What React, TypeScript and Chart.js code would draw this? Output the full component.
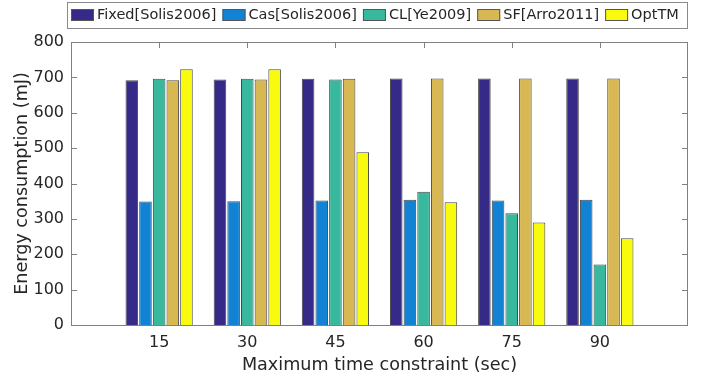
import React, { useEffect, useRef } from 'react';
import { Chart, registerables } from 'chart.js';

Chart.register(...registerables);

const categories = ['15', '30', '45', '60', '75', '90'];
const seriesNames = ['Fixed[Solis2006]', 'Cas[Solis2006]', 'CL[Ye2009]', 'SF[Arro2011]', 'OptTM'];
const fixedValues = [692, 694, 696, 697, 697, 697];
const casValues = [349, 350, 352, 354, 352, 354];
const clValues = [696, 696, 694, 377, 316, 171];
const sfValues = [692, 694, 696, 697, 697, 697];
const optValues = [723, 723, 488, 347, 290, 245];
const seriesColors = ['#352A87', '#1283D4', '#38B89D', '#D7B852', '#F9FB0E'];
const yMin = 0;
const yMax = 800;
const yStep = 100;
const xTitle = 'Maximum time constraint (sec)';
const yTitle = 'Energy consumption (mJ)';

const FONT = '"DejaVu Sans", sans-serif';
const TEXT = '#262626';

const framePlugin = {
  id: 'frame',
  beforeDatasetsDraw(chart: any) {
    const { ctx, chartArea, scales } = chart;
    const { left, right, top, bottom } = chartArea;
    ctx.save();
    ctx.strokeStyle = '#808080';
    ctx.lineWidth = 1;
    ctx.beginPath();
    for (let v = yMin; v <= yMax; v += yStep) {
      const py = Math.round(scales.y.getPixelForValue(v)) + 0.5;
      ctx.moveTo(left, py);
      ctx.lineTo(left + 6, py);
      ctx.moveTo(right - 6, py);
      ctx.lineTo(right, py);
    }
    for (let i = 1; i <= categories.length; i++) {
      const px = Math.round(scales.x.getPixelForValue(i)) + 0.5;
      ctx.moveTo(px, top);
      ctx.lineTo(px, top + 6);
      ctx.moveTo(px, bottom);
      ctx.lineTo(px, bottom - 6);
    }
    ctx.stroke();
    ctx.strokeRect(Math.round(left) + 0.5, Math.round(top) + 0.5, Math.round(right - left) - 1, Math.round(bottom - top));
    ctx.restore();
  },
  afterDraw(chart: any) {
    const { ctx } = chart;
    ctx.save();
    ctx.font = '14.5px ' + FONT;
    ctx.textBaseline = 'middle';
    ctx.textAlign = 'left';
    const cy = 15;
    let x = 71;
    ctx.lineWidth = 1;
    chart.data.datasets.forEach((ds: any, i: number) => {
      ctx.fillStyle = seriesColors[i];
      ctx.fillRect(x, cy - 6, 23, 12);
      ctx.strokeStyle = '#555555';
      ctx.strokeRect(x + 0.5, cy - 6 + 0.5, 22, 11);
      x += 26;
      ctx.fillStyle = TEXT;
      ctx.fillText(ds.label, x, cy + 0.5);
      x += ctx.measureText(ds.label).width + 6;
    });
    ctx.strokeStyle = '#8a8a8a';
    ctx.strokeRect(67.5, 2.5, 620, 26);
    ctx.restore();
  },
};

function pad(values: number[]) {
  return [null, ...values, null];
}

export default function App() {
  const ref = useRef<HTMLCanvasElement>(null);
  useEffect(() => {
    if (!ref.current) return;
    const allSeries = [fixedValues, casValues, clValues, sfValues, optValues];
    const chart = new Chart(ref.current, {
      type: 'bar',
      data: {
        labels: ['', ...categories, ''],
        datasets: allSeries.map((vals, i) => ({
          label: seriesNames[i],
          data: pad(vals),
          backgroundColor: seriesColors[i],
          borderColor: 'rgba(40,40,40,0.85)',
          borderWidth: 1,
          categoryPercentage: 0.775,
          barPercentage: 0.92,
        })),
      },
      options: {
        responsive: false,
        animation: false,
        devicePixelRatio: 1,
        layout: { padding: { top: 42, right: 16, bottom: 0, left: 0 } },
        plugins: { legend: { display: false }, tooltip: { enabled: false } },
        scales: {
          x: {
            type: 'category',
            offset: false,
            grid: { display: false, drawTicks: false, tickLength: 0 },
            border: { display: false },
            ticks: {
              autoSkip: false,
              maxRotation: 0,
              padding: 8,
              color: TEXT,
              font: { family: FONT, size: 16 },
            },
            title: {
              display: true,
              text: xTitle,
              color: TEXT,
              font: { family: FONT, size: 17.6 },
              padding: { top: 0, bottom: 1 },
            },
            afterFit: (s: any) => { s.height = 52; },
          },
          y: {
            min: yMin,
            max: yMax,
            grid: { display: false, drawTicks: false, tickLength: 0 },
            border: { display: false },
            ticks: {
              stepSize: yStep,
              padding: 7,
              color: TEXT,
              font: { family: FONT, size: 16 },
            },
            title: {
              display: true,
              text: yTitle,
              color: TEXT,
              font: { family: FONT, size: 17.6 },
              padding: { top: 12, bottom: 0 },
            },
            afterFit: (s: any) => { s.width = 71; },
          },
        },
      },
      plugins: [framePlugin],
    } as any);
    return () => chart.destroy();
  }, []);
  return (
    <div style={{ position: 'absolute', left: 0, top: 0, width: 704, height: 377, background: '#fff' }}>
      <canvas ref={ref} width={704} height={377} style={{ display: 'block' }} />
    </div>
  );
}
